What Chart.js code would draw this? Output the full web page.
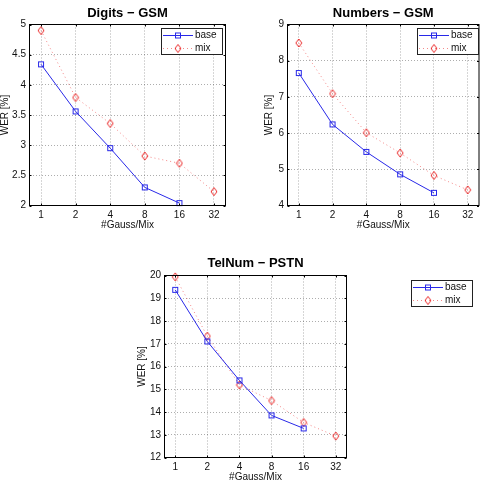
<!DOCTYPE html>
<html>
<head>
<meta charset="utf-8">
<script src="https://cdn.jsdelivr.net/npm/chart.js@4"></script>
<style>
  html, body { margin: 0; padding: 0; background: #fff; }
  #wrap { position: relative; width: 484px; height: 483px; }
  canvas { position: absolute; }
</style>
</head>
<body>
<div id="wrap">
  <canvas id="c1" width="242" height="240" style="left:0;top:0"></canvas>
  <canvas id="c2" width="242" height="240" style="left:242px;top:0"></canvas>
  <canvas id="c3" width="354" height="243" style="left:130px;top:240px"></canvas>
</div>
<script>
const categories = ['1', '2', '4', '8', '16', '32'];

const digitsBase = [4.34, 3.56, 2.95, 2.30, 2.04];
const digitsMix = [4.90, 3.79, 3.36, 2.82, 2.70, 2.23];
const digitsTicks = [2, 2.5, 3, 3.5, 4, 4.5, 5];

const numbersBase = [7.66, 6.24, 5.48, 4.86, 4.35];
const numbersMix = [8.49, 7.09, 6.01, 5.45, 4.83, 4.43];
const numbersTicks = [4, 5, 6, 7, 8, 9];

const telnumBase = [19.37, 17.10, 15.39, 13.85, 13.28];
const telnumMix = [19.94, 17.33, 15.19, 14.50, 13.54, 12.94];
const telnumTicks = [12, 13, 14, 15, 16, 17, 18, 19, 20];

const FONT = "'Liberation Sans', Arial, sans-serif";
const BLUE = 'rgb(40,40,232)';
const RED = 'rgb(235,40,40)';
const GRID = 'rgba(0,0,0,0.32)';

// marker images (MATLAB style: open square, tall open diamond)
function squareMarker() {
    const c = document.createElement('canvas');
    c.width = 8; c.height = 8;
    const g = c.getContext('2d');
    g.strokeStyle = BLUE; g.lineWidth = 1;
    g.strokeRect(1.5, 1.5, 5, 5);
    return c;
}
function diamondMarker() {
    const c = document.createElement('canvas');
    c.width = 8; c.height = 10;
    const g = c.getContext('2d');
    g.strokeStyle = RED; g.lineWidth = 1;
    g.beginPath();
    g.moveTo(4, 1); g.lineTo(7, 5); g.lineTo(4, 9); g.lineTo(1, 5);
    g.closePath(); g.stroke();
    return c;
}
const SQ = squareMarker();
const DM = diamondMarker();

const framePlugin = {
    id: 'frame',
    afterDraw(chart, args, opts) {
        const { ctx, chartArea: a } = chart;
        const xs = chart.scales.x, ys = chart.scales.y;
        ctx.save();
        ctx.strokeStyle = '#000';
        ctx.lineWidth = 1;
        ctx.setLineDash([]);
        ctx.strokeRect(a.left, a.top, a.right - a.left, a.bottom - a.top);
        ctx.beginPath();
        xs.ticks.forEach(t => {
            const px = Math.round(xs.getPixelForValue(t.value)) + 0.5;
            ctx.moveTo(px, a.bottom); ctx.lineTo(px, a.bottom - 2);
            ctx.moveTo(px, a.top); ctx.lineTo(px, a.top + 2);
        });
        ys.ticks.forEach(t => {
            const py = Math.round(ys.getPixelForValue(t.value)) + 0.5;
            ctx.moveTo(a.left, py); ctx.lineTo(a.left + 2, py);
            ctx.moveTo(a.right, py); ctx.lineTo(a.right - 2, py);
        });
        ctx.stroke();

        // legend box
        const L = opts.legend;
        if (L) {
            ctx.fillStyle = '#fff';
            ctx.fillRect(L.x, L.y, L.w, L.h);
            ctx.strokeStyle = '#222';
            ctx.strokeRect(L.x + 0.5, L.y + 0.5, L.w, L.h);
            ctx.font = '10px ' + FONT;
            ctx.textBaseline = 'middle';
            ctx.textAlign = 'left';
            chart.data.datasets.forEach((ds, i) => {
                const ry = Math.round(L.y + 7 + i * 12.5) + 0.5;
                ctx.strokeStyle = ds.borderColor;
                ctx.setLineDash(ds.borderDash || []);
                ctx.beginPath();
                ctx.moveTo(L.x + 2, ry); ctx.lineTo(L.x + 32, ry);
                ctx.stroke();
                ctx.setLineDash([]);
                const img = ds.pointStyle;
                ctx.drawImage(img, L.x + 17 - img.width / 2, ry - img.height / 2);
                ctx.fillStyle = '#111';
                ctx.fillText(ds.label, L.x + 34, ry);
            });
        }
        ctx.restore();
    }
};

function makeChart(id, title, base, mix, yTicks, box) {
    const ctx = document.getElementById(id).getContext('2d');
    const titleLine = 13 * 1.2;
    return new Chart(ctx, {
        type: 'line',
        data: {
            datasets: [
                {
                    label: 'base',
                    data: base.map((v, i) => ({ x: i, y: v })),
                    borderColor: BLUE,
                    borderWidth: 1,
                    pointStyle: SQ,
                    clip: false,
                },
                {
                    label: 'mix',
                    data: mix.map((v, i) => ({ x: i, y: v })),
                    borderColor: 'rgba(235,40,40,0.55)',
                    borderWidth: 1,
                    borderDash: [1, 3],
                    pointStyle: DM,
                    clip: false,
                },
            ],
        },
        options: {
            responsive: false,
            animation: false,
            events: [],
            layout: { padding: { left: 0, top: 0, right: box.w - box.r, bottom: 0 } },
            plugins: {
                legend: { display: false },
                tooltip: { enabled: false },
                title: {
                    display: true,
                    text: title,
                    fullSize: false,
                    color: '#000',
                    font: { family: FONT, size: 13, weight: 'bold' },
                    padding: { top: box.titleTop, bottom: box.t - box.titleTop - titleLine },
                },
                frame: { legend: box.legend },
            },
            scales: {
                x: {
                    type: 'linear',
                    min: -1 / 3,
                    max: categories.length - 1 + 1 / 3,
                    afterBuildTicks: s => { s.ticks = categories.map((_, i) => ({ value: i })); },
                    afterFit: s => { s.height = box.h - box.b; s.paddingLeft = 0; s.paddingRight = 0; },
                    ticks: {
                        callback: v => categories[v],
                        autoSkip: false,
                        maxRotation: 0,
                        padding: 4,
                        color: '#111',
                        font: { family: FONT, size: 10 },
                    },
                    grid: { color: GRID, drawTicks: false, lineWidth: 1 },
                    border: { display: false, dash: [1, 2] },
                    title: {
                        display: true,
                        text: '#Gauss/Mix',
                        color: '#111',
                        font: { family: FONT, size: 10 },
                        padding: { top: 0, bottom: box.xTitlePad },
                    },
                },
                y: {
                    min: yTicks[0],
                    max: yTicks[yTicks.length - 1],
                    afterBuildTicks: s => { s.ticks = yTicks.map(v => ({ value: v })); },
                    afterFit: s => { s.width = box.l; s.paddingTop = 0; s.paddingBottom = 0; },
                    ticks: {
                        callback: v => String(v),
                        padding: 3.5,
                        color: '#111',
                        font: { family: FONT, size: 10 },
                    },
                    grid: { color: GRID, drawTicks: false, lineWidth: 1 },
                    border: { display: false, dash: [1, 2] },
                    title: {
                        display: true,
                        text: 'WER [%]',
                        color: '#111',
                        font: { family: FONT, size: 10 },
                        padding: { top: box.yTitleOff - 6, bottom: 0 },
                    },
                },
            },
        },
        plugins: [framePlugin],
    });
}

makeChart('c1', 'Digits \u2212 GSM', digitsBase, digitsMix, digitsTicks, {
    w: 242, h: 240, l: 29.5, r: 225.5, t: 24.5, b: 205.5,
    titleTop: 5.5, xTitlePad: 8.5, yTitleOff: 5,
    legend: { x: 161, y: 28, w: 61, h: 26 },
});
makeChart('c2', 'Numbers \u2212 GSM', numbersBase, numbersMix, numbersTicks, {
    w: 242, h: 240, l: 45.5, r: 239.5, t: 24.5, b: 205.5,
    titleTop: 5.5, xTitlePad: 8.5, yTitleOff: 27,
    legend: { x: 175, y: 28, w: 61, h: 26 },
});
makeChart('c3', 'TelNum \u2212 PSTN', telnumBase, telnumMix, telnumTicks, {
    w: 354, h: 243, l: 34.5, r: 216.5, t: 35.5, b: 217.5,
    titleTop: 16, xTitlePad: 0, yTitleOff: 12.5,
    legend: { x: 281, y: 40, w: 61, h: 26 },
});
</script>
</body>
</html>
